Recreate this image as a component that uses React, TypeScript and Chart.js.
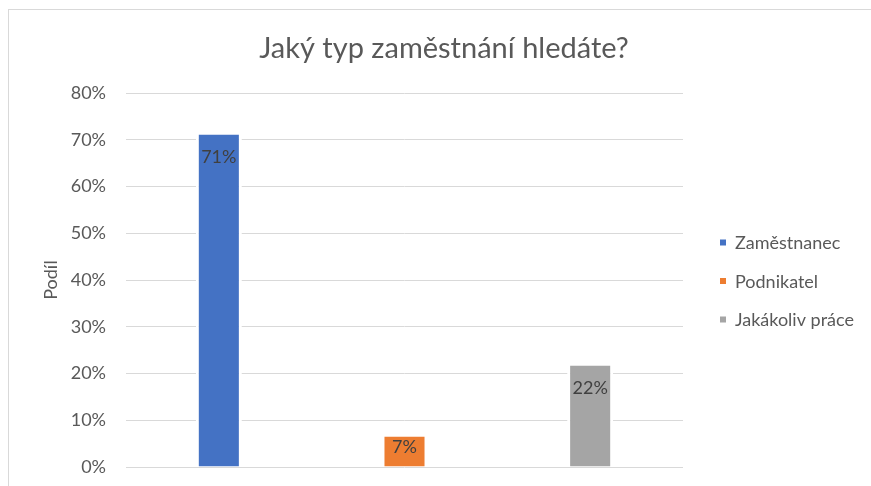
import React, { useEffect, useRef } from "react";
import { Chart, registerables } from "chart.js";

Chart.register(...registerables);

const chartTitle = "Jaký typ zaměstnání hledáte?";
const yAxisTitle = "Podíl";
const categories = [""];
const seriesNames = ["Zaměstnanec", "Podnikatel", "Jakákoliv práce"];
const seriesValues = [71.1, 6.5, 21.7];
const seriesColors = ["#4472C4", "#ED7D31", "#A5A5A5"];
const yMin = 0;
const yMax = 80;
const yStep = 10;

const FONT = "Lato, 'Liberation Sans', sans-serif";
const TEXT = "#595959";

const titlePlugin = {
  id: "centerTitle",
  afterDraw(chart: any) {
    const ctx = chart.ctx;
    ctx.save();
    ctx.font = `29px ${FONT}`;
    ctx.fillStyle = TEXT;
    ctx.textAlign = "center";
    ctx.textBaseline = "alphabetic";
    ctx.fillText(chartTitle, chart.width / 2 + 4, chart.chartArea.top - 35);
    ctx.restore();
  },
};

const dataLabelPlugin = {
  id: "dataLabels",
  afterDatasetsDraw(chart: any) {
    const ctx = chart.ctx;
    ctx.save();
    ctx.font = `18px ${FONT}`;
    ctx.fillStyle = "#404040";
    ctx.textAlign = "center";
    ctx.textBaseline = "alphabetic";
    chart.data.datasets.forEach((ds: any, i: number) => {
      const meta = chart.getDatasetMeta(i);
      meta.data.forEach((bar: any, j: number) => {
        const v = ds.data[j];
        const y = Math.min(bar.y + 28, bar.base - 14);
        ctx.fillText(`${Math.round(v)}%`, bar.x, y);
      });
    });
    ctx.restore();
  },
};

const legendPlugin = {
  id: "sideLegend",
  afterDraw(chart: any) {
    const ctx = chart.ctx;
    const area = chart.chartArea;
    const n = chart.data.datasets.length;
    const spacing = 38.5;
    const mid = (area.top + area.bottom) / 2 + 1;
    const boxX = area.right + 37;
    ctx.save();
    ctx.font = `18px ${FONT}`;
    ctx.textAlign = "left";
    ctx.textBaseline = "middle";
    chart.data.datasets.forEach((ds: any, i: number) => {
      const y = mid + (i - (n - 1) / 2) * spacing;
      ctx.fillStyle = ds.backgroundColor;
      ctx.fillRect(boxX, y - 3, 6, 6);
      ctx.fillStyle = TEXT;
      ctx.fillText(ds.label, boxX + 15, y + 1);
    });
    ctx.restore();
  },
};

export default function App() {
  const ref = useRef<HTMLCanvasElement>(null);

  useEffect(() => {
    if (!ref.current) return;
    const chart = new Chart(ref.current, {
      type: "bar",
      data: {
        labels: categories,
        datasets: seriesNames.map((name, i) => ({
          label: name,
          data: [seriesValues[i]],
          backgroundColor: seriesColors[i],
          borderColor: "#ffffff",
          borderWidth: { left: 3, right: 3, top: 0, bottom: 0 },
          borderSkipped: false,
          categoryPercentage: 1,
          barPercentage: 0.248,
        })),
      },
      options: {
        responsive: true,
        maintainAspectRatio: false,
        animation: false,
        layout: { padding: { left: 0, right: 188, top: 83, bottom: 19 } },
        plugins: {
          legend: { display: false },
          tooltip: { enabled: false },
          title: { display: false },
        },
        scales: {
          x: {
            display: false,
            grid: { display: false },
          },
          y: {
            min: yMin,
            max: yMax,
            afterFit: (s: any) => {
              s.width = 117;
            },
            ticks: {
              stepSize: yStep,
              padding: 0,
              color: TEXT,
              font: { family: FONT, size: 18 },
              callback: (v: any) => `${v}%`,
            },
            grid: {
              color: "#d9d9d9",
              lineWidth: 1,
              drawTicks: true,
              tickLength: 20,
              tickColor: "rgba(0,0,0,0)",
            },
            border: { display: false },
            title: {
              display: true,
              text: yAxisTitle,
              color: TEXT,
              font: { family: FONT, size: 18 },
              padding: { top: 31, bottom: 0 },
            },
          },
        },
      },
      plugins: [titlePlugin, dataLabelPlugin, legendPlugin],
    });
    return () => chart.destroy();
  }, []);

  return (
    <div
      style={{
        position: "fixed",
        left: 8,
        top: 9,
        width: 863,
        height: 477,
        borderTop: "1px solid #d9d9d9",
        borderLeft: "1px solid #d9d9d9",
        boxSizing: "border-box",
        background: "#fff",
      }}
    >
      <div style={{ position: "relative", width: 862, height: 476 }}>
        <canvas ref={ref} />
      </div>
    </div>
  );
}
